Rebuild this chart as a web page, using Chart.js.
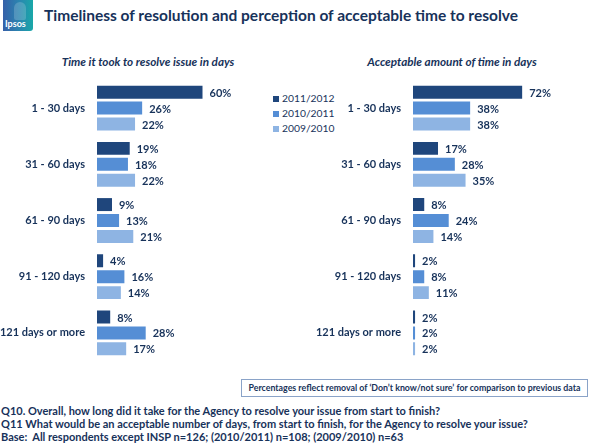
<!DOCTYPE html>
<html>
<head>
<meta charset="utf-8">
<script src="https://cdn.jsdelivr.net/npm/chart.js@4"></script>
<style>
  body { margin: 0; width: 590px; height: 444px; background: #fff; position: relative; overflow: hidden; font-family: Lato, sans-serif; color: #17325a; }
  .abs { position: absolute; }
  #logo { left: 3px; top: 0; width: 30px; height: 31px; background: linear-gradient(90deg, #3660a8 0%, #2a86b0 55%, #19a8a8 100%); border-radius: 0 0 3px 0; overflow: hidden; }
  #logo b { position: absolute; left: 11px; top: 2px; width: 12px; height: 18px; border-radius: 6px 6px 2px 2px; background: rgba(255,255,255,0.18); }
  #logo span { position: absolute; left: 2px; bottom: 2px; color: #fff; font: bold 9px Lato, sans-serif; }
  #title { left: 44px; top: 6px; font: bold 15.5px Lato, sans-serif; color: #17325a; white-space: nowrap; }
  .sub { top: 54px; font: italic bold 11.7px Lato, sans-serif; color: #17325a; white-space: nowrap; transform: translateX(-50%); }
  #legend { left: 273px; top: 91px; font: 10.3px Lato, sans-serif; color: #17325a; }
  #legend div { height: 15px; line-height: 15px; white-space: nowrap; }
  #legend i { display: inline-block; width: 6px; height: 6px; margin-right: 3px; vertical-align: 0px; }
  #note { left: 241px; top: 379px; width: 345px; height: 16px; border: 1px solid #8aa3c8; font: bold 8.8px Lato, sans-serif; line-height: 16px; text-align: center; color: #17325a; }
  #questions { left: 1px; top: 404px; font: bold 11px Lato, sans-serif; line-height: 13px; color: #17325a; white-space: nowrap; }
</style>
</head>
<body>
<div id="logo" class="abs"><b></b><span>Ipsos</span></div>
<div id="title" class="abs">Timeliness of resolution and perception of acceptable time to resolve</div>
<div class="abs sub" style="left:148px">Time it took to resolve issue in days</div>
<div class="abs sub" style="left:452px">Acceptable amount of time in days</div>
<div id="legend" class="abs"></div>
<canvas id="leftChart" class="abs" style="left:0;top:80px"></canvas>
<canvas id="rightChart" class="abs" style="left:300px;top:80px"></canvas>
<div id="note" class="abs">Percentages reflect removal of ‘Don’t know/not sure’ for comparison to previous data</div>
<div id="questions" class="abs">
  Q10. Overall, how long did it take for the Agency to resolve your issue from start to finish?<br>
  Q11 What would be an acceptable number of days, from start to finish, for the Agency to resolve your issue?<br>
  Base:&nbsp; All respondents except INSP n=126; (2010/2011) n=108; (2009/2010) n=63
</div>
<script>
const categories = ['1 - 30 days', '31 - 60 days', '61 - 90 days', '91 - 120 days', '121 days or more'];
const seriesNames = ['2011/2012', '2010/2011', '2009/2010'];
const colors = ['#1f467c', '#558ed5', '#8eb4e3'];

// time it took to resolve (%)
const took2011 = [60, 19, 9, 4, 8];
const took2010 = [26, 18, 13, 16, 28];
const took2009 = [22, 22, 21, 14, 17];

// acceptable amount of time (%)
const ok2011 = [72, 17, 8, 2, 2];
const ok2010 = [38, 28, 24, 8, 2];
const ok2009 = [38, 35, 14, 11, 2];

// legend built from the series names
document.getElementById('legend').innerHTML = seriesNames
  .map((n, i) => `<div><i style="background:${colors[i]}"></i>${n}</div>`).join('');

// percentage labels at the end of each bar
const valueLabels = {
  id: 'valueLabels',
  afterDatasetsDraw(chart) {
    const ctx = chart.ctx;
    ctx.save();
    ctx.font = 'bold 11px Lato, sans-serif';
    ctx.fillStyle = '#17325a';
    ctx.textBaseline = 'middle';
    chart.data.datasets.forEach((ds, i) => {
      chart.getDatasetMeta(i).data.forEach((bar, j) => {
        ctx.fillText(ds.data[j] + '%', bar.x + 6, bar.y + 1);
      });
    });
    ctx.restore();
  }
};

function makeChart(id, w, axisWidth, max, series) {
  const cv = document.getElementById(id);
  cv.width = w;
  cv.height = 281;
  cv.style.width = w + 'px';
  cv.style.height = '281px';
  return new Chart(cv, {
    type: 'bar',
    data: {
      labels: categories,
      datasets: series.map((d, i) => ({
        label: seriesNames[i],
        data: d,
        backgroundColor: colors[i],
        borderColor: 'rgba(255,255,255,0.35)',
        borderWidth: 1,
        categoryPercentage: 0.85,
        barPercentage: 0.94
      }))
    },
    options: {
      indexAxis: 'y',
      responsive: false,
      animation: false,
      layout: { padding: 0, autoPadding: false },
      plugins: { legend: { display: false }, tooltip: { enabled: false } },
      scales: {
        x: { display: false, min: 0, max: max },
        y: {
          grid: { display: false, drawTicks: false },
          border: { display: false },
          ticks: { padding: 12, color: '#17325a', font: { family: 'Lato', size: 11, weight: 'bold' } },
          afterFit(s) {
            s.width = axisWidth;
            s.paddingTop = 0;
            s.paddingBottom = 0;
          }
        }
      }
    },
    plugins: [valueLabels]
  });
}

makeChart('leftChart', 239, 97, 80, [took2011, took2010, took2009]);
makeChart('rightChart', 266, 113, 100, [ok2011, ok2010, ok2009]);
</script>
</body>
</html>
